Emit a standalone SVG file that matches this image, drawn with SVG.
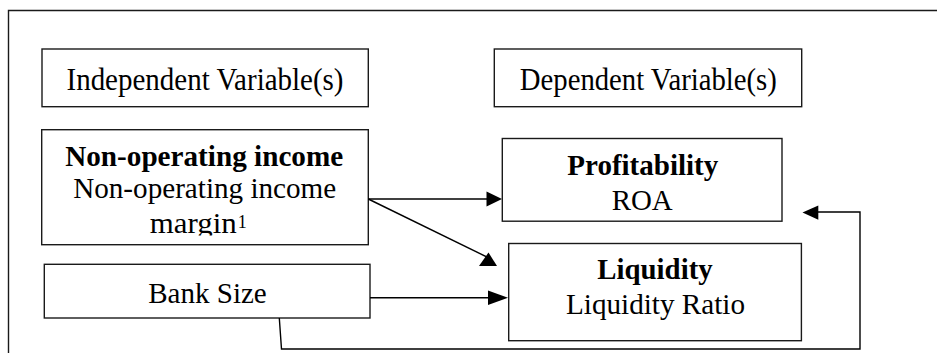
<svg xmlns="http://www.w3.org/2000/svg" width="937" height="353" viewBox="0 0 937 353">
  <style>
    .box { fill: #ffffff; stroke: #1a1a1a; stroke-width: 1.4; }
    .frame { fill: none; stroke: #1a1a1a; stroke-width: 1.4; }
    .conn { fill: none; stroke: #000000; stroke-width: 1.4; }
    .head { fill: #000000; stroke: none; }
    .t { font-family: "Liberation Serif", "Times New Roman", serif; fill: #000000; text-anchor: middle; }
    .h { font-size: 32px; }
    .r { font-size: 29px; }
    .b { font-size: 29px; font-weight: bold; }
  </style>
  <defs>
    <clipPath id="nonopClip">
      <rect x="41" y="129" width="328" height="106.5"/>
    </clipPath>
  </defs>
  <rect width="937" height="353" fill="#ffffff"/>
  <path class="frame" d="M8.5,353 V10.5 H937"/>

  <g id="independent-header">
    <rect class="box" x="42" y="49" width="326.3" height="57.7"/>
    <text class="t h" x="205" y="90" textLength="277" lengthAdjust="spacingAndGlyphs">Independent Variable(s)</text>
  </g>

  <g id="dependent-header">
    <rect class="box" x="494.3" y="49" width="307.4" height="57.7"/>
    <text class="t h" x="648.3" y="90" textLength="257" lengthAdjust="spacingAndGlyphs">Dependent Variable(s)</text>
  </g>

  <g id="non-operating-income">
    <rect class="box" x="41.7" y="129.7" width="326.6" height="115"/>
    <text class="t b" x="204.2" y="166.3" textLength="278" lengthAdjust="spacingAndGlyphs">Non-operating income</text>
    <text class="t r" x="204.7" y="198" textLength="263" lengthAdjust="spacingAndGlyphs">Non-operating income</text>
    <g clip-path="url(#nonopClip)">
      <text class="t r" x="193.3" y="233" textLength="87" lengthAdjust="spacingAndGlyphs">margin</text>
    </g>
    <text class="t" x="242.2" y="228" font-size="18">1</text>
  </g>

  <g id="bank-size">
    <rect class="box" x="44.3" y="264.3" width="325.7" height="53.7"/>
    <text class="t r" x="207.5" y="303" textLength="118.5" lengthAdjust="spacingAndGlyphs">Bank Size</text>
  </g>

  <g id="profitability">
    <rect class="box" x="502.3" y="138.5" width="279.7" height="82.7"/>
    <text class="t b" x="642.8" y="175" textLength="151" lengthAdjust="spacingAndGlyphs">Profitability</text>
    <text class="t r" x="642.2" y="210" textLength="61" lengthAdjust="spacingAndGlyphs">ROA</text>
  </g>

  <g id="liquidity">
    <rect class="box" x="508.7" y="243.5" width="292.7" height="97.2"/>
    <text class="t b" x="655" y="279" textLength="115.3" lengthAdjust="spacingAndGlyphs">Liquidity</text>
    <text class="t r" x="655.5" y="314" textLength="179" lengthAdjust="spacingAndGlyphs">Liquidity Ratio</text>
  </g>

  <g id="connectors">
    <line class="conn" x1="368.3" y1="199" x2="488" y2="199"/>
    <polygon class="head" points="486.5,191.5 502,199 486.5,206.5"/>

    <line class="conn" x1="368.3" y1="199" x2="489" y2="258"/>
    <polygon class="head" points="479,266 497,266 488.5,252.5"/>

    <line class="conn" x1="370" y1="297.7" x2="490" y2="297.7"/>
    <polygon class="head" points="488,290.5 508,297.7 488,305"/>

    <polyline class="conn" points="279.3,318 281.5,349 860,349 860,212 816,212"/>
    <polygon class="head" points="818.3,205.5 802.5,212.5 818.3,219.8"/>
  </g>
</svg>
